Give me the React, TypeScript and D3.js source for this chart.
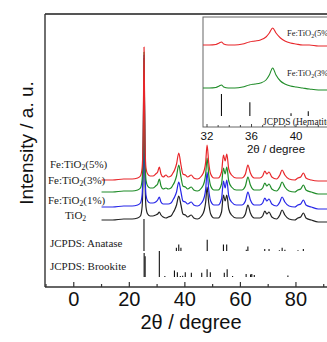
import React from 'react';
import * as d3 from 'd3';

const W = 327;
const H = 342;

// ---- main XRD patterns (2θ grid shared by all series) ----
const twoTheta = [10, 14, 18, 21, 23, 24, 24.6, 25.0, 25.3, 25.6, 26.0, 26.6, 27.5, 28.5, 29.5, 30.2, 30.8, 31.4, 32.2, 33.2, 34.0, 35.0, 35.7, 36.3, 37.0, 37.8, 38.6, 39.3, 40.2, 41.0, 42.3, 43.2, 44.5, 46.0, 47.0, 47.5, 48.0, 48.6, 49.3, 50.5, 52.0, 53.2, 53.9, 54.5, 55.1, 55.8, 56.8, 58.5, 60.5, 61.8, 62.7, 63.6, 65.0, 67.0, 68.0, 68.8, 69.5, 70.3, 71.3, 73.0, 74.2, 75.0, 76.0, 77.5, 79.5, 80.7, 81.7, 82.7, 83.6, 85.5, 88, 90, 94];
const intFe5 = [0, 0, 1, 1, 2, 4, 12, 45, 133, 45, 12, 6, 4, 4, 6, 8, 13, 6, 3, 5, 3, 4, 7, 10, 16, 27, 15, 6, 5, 3, 5, 2, 1, 4, 10, 18, 35, 17, 6, 2, 2, 8, 25, 19, 26, 11, 5, 2, 2, 6, 15, 7, 2, 2, 4, 9, 6, 8, 3, 1, 5, 10, 5, 1, 0, 2, 3, 7, 2, 0, -1, -1, -1];
const intFe3 = [0, 0, 1, 1, 2, 4, 12, 47, 140, 47, 12, 6, 4, 4, 6, 8, 13, 6, 3, 4, 3, 4, 7, 10, 16, 27, 15, 6, 5, 3, 5, 2, 1, 4, 10, 18, 34, 17, 6, 2, 2, 8, 24, 18, 25, 11, 5, 2, 2, 6, 15, 7, 2, 2, 4, 9, 6, 8, 3, 1, 5, 10, 5, 1, 0, 2, 3, 7, 2, 0, -2, -2, -2];
const intFe1 = [0, 0, 1, 1, 2, 4, 12, 50, 152, 50, 12, 6, 4, 4, 5, 7, 10, 5, 3, 3, 3, 4, 7, 10, 15, 25, 15, 6, 5, 3, 5, 2, 1, 4, 10, 18, 35, 17, 6, 2, 2, 8, 26, 19, 27, 11, 5, 2, 2, 6, 15, 7, 2, 2, 4, 9, 6, 8, 3, 1, 5, 10, 5, 1, 0, 2, 3, 7, 2, 0, -2, -2, -2];
const intTiO2 = [0, 0, 1, 1, 2, 4, 13, 55, 162, 55, 13, 6, 4, 4, 5, 6, 8, 5, 3, 2, 3, 4, 7, 10, 15, 24, 15, 6, 5, 3, 5, 2, 1, 4, 10, 18, 33, 17, 6, 2, 2, 8, 25, 19, 25, 11, 5, 2, 2, 6, 15, 7, 2, 2, 4, 9, 6, 8, 3, 1, 5, 10, 5, 1, 0, 2, 3, 7, 2, 0, -2, -2, -2];
const seriesLabels = ['Fe:TiO|2|(5%)', 'Fe:TiO|2|(3%)', 'Fe:TiO|2|(1%)', 'TiO|2|'];
const seriesColors = ['#e8262a', '#1f8c28', '#2626e8', '#222222'];
const seriesOffsets = [107, 95, 80, 67];

// ---- JCPDS reference sticks ----
const anataseAngles = [25.28, 36.95, 37.8, 38.58, 48.05, 53.89, 55.06, 62.12, 62.69, 68.76, 70.31, 74.03, 75.03, 76.02, 80.73, 82.66];
const anataseRel = [100, 10, 20, 10, 35, 20, 20, 4, 14, 6, 6, 2, 10, 4, 2, 6];
const brookiteAngles = [25.34, 25.69, 30.81, 32.79, 36.25, 37.3, 38.37, 39.2, 40.15, 42.34, 46.07, 48.01, 49.17, 54.2, 55.23, 57.18, 62.06, 63.65, 64.1, 65.0, 77.1];
const brookiteRel = [92, 80, 100, 4, 25, 18, 4, 5, 18, 16, 16, 30, 18, 16, 30, 4, 12, 10, 12, 8, 6];

const xMajorTicks = [0, 20, 40, 60, 80];
const xMinorTicks = [-10, 10, 30, 50, 70, 90];

// ---- inset ----
const insetTheta = [31.6, 32.2, 32.8, 33.1, 33.3, 33.5, 33.9, 34.5, 35.2, 35.8, 36.3, 36.8, 37.3, 37.6, 37.9, 38.2, 38.6, 39.0, 39.5, 40.0, 40.6, 41.2, 42.0, 43.0, 44.0, 45.0];
const insetFe5 = [0, 0, 0.5, 2, 3, 1, 0, 0, 1, 3, 4, 5, 8, 12, 17, 12, 7, 4, 2, 1, 0, 0, -1, -1, -1, -1];
const insetFe3 = [0, 0, 0.5, 2, 3, 1, 0, 0, 1, 3, 4, 5, 8, 13, 20, 13, 7, 4, 2, 1, 0, -1, -2, -2, -2, -2];
const insetOffsets = [82, 39];
const insetLabels = ['Fe:TiO|2|(5%)', 'Fe:TiO|2|(3%)'];
const hematiteAngles = [33.3, 35.85, 39.55, 41.1, 43.6];
const hematiteRel = [100, 62, 12, 22, 4];
const insetTickLabels = [32, 36, 40];
const insetMajorTicks = [32, 36, 40, 44];
const insetMinorTicks = [33, 34, 35, 37, 38, 39, 41, 42, 43];

function Sub({ text }: { text: string }) {
  const parts = text.split('|');
  return (
    <>
      {parts.map((p, i) =>
        i % 2 === 1 ? (
          <tspan key={i} baselineShift="-25%" fontSize="0.7em">{p}</tspan>
        ) : (
          <tspan key={i}>{p}</tspan>
        )
      )}
    </>
  );
}

export default function App() {
  // main frame
  const L = 45, T = 14, B = 287, R = 352;
  const x = d3.scaleLinear().domain([-10, 100]).range([46, 351.5]);
  const y = d3.scaleLinear().domain([0, 273]).range([B, T]);
  const anaH = d3.scaleLinear().domain([0, 100]).range([0, 32]);
  const broH = d3.scaleLinear().domain([0, 100]).range([0, 26]);
  const anaBase = 36, broBase = 10;

  const series = [intFe5, intFe3, intFe1, intTiO2].map((vals, k) => ({
    label: seriesLabels[k],
    color: seriesColors[k],
    offset: seriesOffsets[k],
    pts: twoTheta.map((t, i) => [t, vals[i]] as [number, number]),
  }));

  const mainLine = (off: number) =>
    d3.line<[number, number]>()
      .x((d) => x(d[0]))
      .y((d) => y(d[1] + off))
      .curve(d3.curveMonotoneX);

  // inset frame
  const iL = 203, iT = 17, iB = 127, iR = 345;
  const ix = d3.scaleLinear().domain([31.64, 44.4]).range([iL, iR]);
  const iy = d3.scaleLinear().domain([0, 110]).range([iB, iT]);
  const hemH = d3.scaleLinear().domain([0, 100]).range([0, 22]);
  const hemBase = 11;
  const insetSeries = [insetFe5, insetFe3].map((vals, k) => ({
    color: seriesColors[k],
    offset: insetOffsets[k],
    label: insetLabels[k],
    pts: insetTheta.map((t, i) => [t, vals[i]] as [number, number]),
  }));
  const insetLine = (off: number) =>
    d3.line<[number, number]>()
      .x((d) => ix(d[0]))
      .y((d) => iy(d[1] + off))
      .curve(d3.curveMonotoneX);

  const serif = '"Liberation Serif", "Times New Roman", serif';
  const sans = '"Liberation Sans", Arial, sans-serif';
  const labelY = [168, 184, 204, 219];
  const labelX = [50, 48, 48, 65];

  return (
    <svg width={W} height={H} style={{ position: 'absolute', left: 0, top: 0, background: '#fff' }}>
      <defs>
        <clipPath id="mainClip">
          <rect x={L} y={T} width={R - L} height={B - T} />
        </clipPath>
        <clipPath id="insetClip">
          <rect x={iL} y={iT} width={iR - iL} height={iB - iT} />
        </clipPath>
      </defs>
      <rect x={0} y={0} width={W} height={H} fill="#fff" />

      <g clipPath="url(#mainClip)">
        {series.slice().reverse().map((s, k) => (
          <path key={k} d={mainLine(s.offset)(s.pts) || ''} fill="none" stroke={s.color} strokeWidth={1.2} strokeLinejoin="round" />
        ))}
        {anataseAngles.map((a, i) => (
          <line key={'a' + i} x1={x(a)} x2={x(a)} y1={y(anaBase)} y2={y(anaBase) - anaH(anataseRel[i])} stroke="#111" strokeWidth={1.1} />
        ))}
        {brookiteAngles.map((a, i) => (
          <line key={'b' + i} x1={x(a)} x2={x(a)} y1={y(broBase)} y2={y(broBase) - broH(brookiteRel[i])} stroke="#111" strokeWidth={1.1} />
        ))}
      </g>

      {/* inset */}
      <rect x={iL} y={iT} width={iR - iL} height={iB - iT} fill="#fff" stroke="#666" strokeWidth={1} />
      <g clipPath="url(#insetClip)">
        {insetSeries.map((s, k) => (
          <path key={k} d={insetLine(s.offset)(s.pts) || ''} fill="none" stroke={s.color} strokeWidth={1.1} />
        ))}
        {hematiteAngles.map((a, i) => (
          <line key={'h' + i} x1={ix(a)} x2={ix(a)} y1={iy(hemBase)} y2={iy(hemBase) - hemH(hematiteRel[i])} stroke="#111" strokeWidth={1.1} />
        ))}
        {insetMajorTicks.map((t) => (
          <line key={'it' + t} x1={ix(t)} x2={ix(t)} y1={iB} y2={iB - 3} stroke="#444" strokeWidth={1} />
        ))}
        {insetMinorTicks.map((t) => (
          <line key={'im' + t} x1={ix(t)} x2={ix(t)} y1={iB} y2={iB - 2} stroke="#444" strokeWidth={1} />
        ))}
        {insetSeries.map((s, k) => (
          <text key={'il' + k} x={287} y={[36, 76][k]} fontFamily={serif} fontSize={8.5} fill="#222">
            <Sub text={s.label} />
          </text>
        ))}
        <text x={263} y={125} fontFamily={serif} fontSize={9.5} fill="#222">JCPDS (Hematite)</text>
      </g>
      {insetTickLabels.map((t) => (
        <text key={'itl' + t} x={ix(t)} y={140} textAnchor="middle" fontFamily={sans} fontSize={11.5} fill="#111">{t}</text>
      ))}
      <text x={276} y={153} textAnchor="middle" fontFamily={sans} fontSize={11.5} fill="#111">2θ / degree</text>

      {/* frame */}
      <line x1={L} x2={R} y1={T} y2={T} stroke="#555" strokeWidth={2} />
      <line x1={L} x2={L} y1={T} y2={B} stroke="#333" strokeWidth={1.4} />
      <line x1={L} x2={R} y1={B} y2={B} stroke="#333" strokeWidth={1.4} />
      {xMajorTicks.map((t) => (
        <line key={'mt' + t} x1={x(t)} x2={x(t)} y1={B} y2={B - 5} stroke="#333" strokeWidth={1.2} />
      ))}
      {xMinorTicks.map((t) => (
        <line key={'mn' + t} x1={x(t)} x2={x(t)} y1={B} y2={B - 3} stroke="#333" strokeWidth={1.2} />
      ))}
      {xMajorTicks.map((t) => (
        <text key={'ml' + t} x={x(t)} y={306} textAnchor="middle" fontFamily={sans} fontSize={20} fill="#111">{t}</text>
      ))}
      <text x={191} y={329} textAnchor="middle" fontFamily={sans} fontSize={20} fill="#111">2θ / degree</text>
      <text transform="translate(33,143) rotate(-90)" textAnchor="middle" fontFamily={sans} fontSize={19} fill="#111">Intensity / a. u.</text>

      {series.map((s, k) => (
        <text key={'sl' + k} x={labelX[k]} y={labelY[k]} fontFamily={serif} fontSize={11} fill="#222">
          <Sub text={s.label} />
        </text>
      ))}
      <text x={50} y={247} fontFamily={serif} fontSize={11} fill="#222">JCPDS: Anatase</text>
      <text x={50} y={270} fontFamily={serif} fontSize={11} fill="#222">JCPDS: Brookite</text>
    </svg>
  );
}
